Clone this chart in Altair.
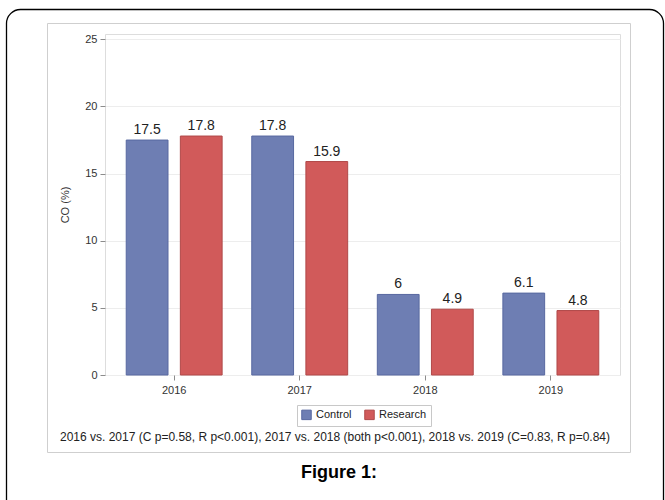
import altair as alt
import pandas as pd

years = ["2016", "2017", "2018", "2019"]
groups = ["Control", "Research"]
control_vals = [17.5, 17.8, 6.0, 6.1]
research_vals = [17.8, 15.9, 4.9, 4.8]
y_ticks = [0, 5, 10, 15, 20, 25]
footnote = "2016 vs. 2017 (C p=0.58, R p<0.001), 2017 vs. 2018 (both p<0.001), 2018 vs. 2019 (C=0.83, R p=0.84)"
fig_title = "Figure 1:"

rows = []
for i, yr in enumerate(years):
    rows.append({"year": yr, "group": "Control", "value": control_vals[i]})
    rows.append({"year": yr, "group": "Research", "value": research_vals[i]})
df = pd.DataFrame(rows)

FONT = "Liberation Sans"
W, H = 515, 341

xenc = alt.X("year:N", sort=years, title=None,
             scale=alt.Scale(paddingInner=0, paddingOuter=0.051),
             axis=alt.Axis(labelAngle=0, labelFontSize=11, labelColor="#333333",
                           tickColor="#8C8C8C", tickSize=5, domain=False,
                           labelPadding=4))
xoff = alt.XOffset("group:N", sort=groups,
                   scale=alt.Scale(paddingInner=0.228, paddingOuter=0.274))
yenc = alt.Y("value:Q", title="CO (%)",
             scale=alt.Scale(domain=[0, 25.4], nice=False, zero=True),
             axis=alt.Axis(values=y_ticks, labelFontSize=11, labelColor="#333333",
                           tickColor="#8C8C8C", tickSize=5, domain=False,
                           grid=True, gridColor="#EDEDED", labelPadding=3,
                           titleFontSize=11, titleFontWeight="normal",
                           titleColor="#333333", titlePadding=14))

bars = alt.Chart(df).mark_bar(strokeWidth=1).encode(
    x=xenc, xOffset=xoff, y=yenc,
    color=alt.Color("group:N", sort=groups, title=None,
                    scale=alt.Scale(domain=groups, range=["#6E7EB3", "#D15A5A"]),
                    legend=alt.Legend(orient="none", legendX=192, legendY=371,
                                      direction="horizontal", strokeColor="#C8C8C8",
                                      padding=4, symbolType="square", symbolSize=90,
                                      labelFontSize=11, labelFont=FONT,
                                      labelColor="#222222", columnPadding=10,
                                      symbolStrokeWidth=1, symbolOffset=0)),
    stroke=alt.Stroke("group:N", sort=groups,
                      scale=alt.Scale(domain=groups, range=["#5868A0", "#B04848"]),
                      legend=None),
)

labels = alt.Chart(df).mark_text(dy=-3, fontSize=14, font=FONT, color="#222222",
                                 baseline="bottom").encode(
    x=alt.X("year:N", sort=years), xOffset=alt.XOffset("group:N", sort=groups),
    y="value:Q", text=alt.Text("value:Q", format=".1~f"))

one = pd.DataFrame({"k": [0]})

outer = alt.Chart(one).mark_rect(fill=None, stroke="#000000", strokeWidth=1.3,
                                 cornerRadius=14, clip=False).encode(
    x=alt.value(-98.5), x2=alt.value(558.5), y=alt.value(-24.5), y2=alt.value(486))
inner = alt.Chart(one).mark_rect(fill=None, stroke="#CFCFCF", strokeWidth=1,
                                 clip=False).encode(
    x=alt.value(-57.5), x2=alt.value(525.5), y=alt.value(-10.5), y2=alt.value(418.5))

foot = alt.Chart(pd.DataFrame({"t": [footnote]})).mark_text(
    fontSize=12, font=FONT, color="#222222", align="left", baseline="middle").encode(
    x=alt.value(-45), y=alt.value(403), text="t:N")
ftitle = alt.Chart(pd.DataFrame({"t": [fig_title]})).mark_text(
    fontSize=18, font=FONT, fontWeight="bold", color="#000000", align="center",
    baseline="middle").encode(x=alt.value(234), y=alt.value(439), text="t:N")

chart = alt.layer(outer, inner, bars, labels, foot, ftitle).properties(
    width=W, height=H,
    autosize=alt.AutoSizeParams(type="none"),
    padding={"left": 105, "top": 34, "right": 45, "bottom": 125},
).configure_view(stroke="#A0A0A0", strokeWidth=1).configure(
    font=FONT, background="#FFFFFF")

chart.save("out.html", embed_options={"renderer": "svg", "actions": False})
